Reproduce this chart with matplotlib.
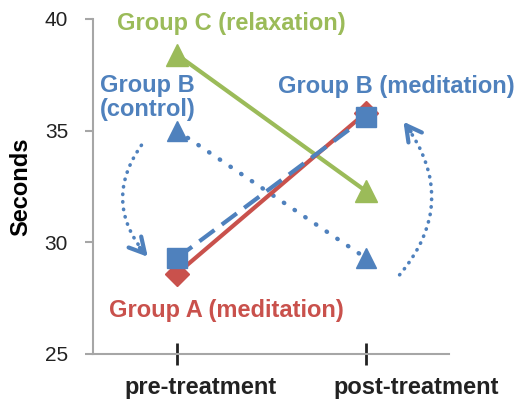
import numpy as np
import matplotlib
matplotlib.use("Agg")
import matplotlib.pyplot as plt
import matplotlib.transforms as mtransforms
from matplotlib.patches import FancyArrowPatch

plt.rcParams['font.family'] = ['Liberation Sans', 'DejaVu Sans']

categories = ["pre-treatment", "post-treatment"]
group_a_med = [28.6, 35.8]
group_b_med = [29.3, 35.6]
group_b_ctrl = [35.0, 29.3]
group_c_relax = [38.4, 32.3]
yticks = [25, 30, 35, 40]

RED = "#C9514C"
BLUE = "#4F81BD"
GREEN = "#9BBB59"

fig = plt.figure(figsize=(5.17, 4.03), dpi=100)
ax = fig.add_axes([0.180, 0.1216, 0.688, 0.8313])
x = np.arange(len(categories))

ax.plot(x, group_c_relax, color=GREEN, lw=3, marker='^', ms=16, zorder=3)
ax.plot(x, group_b_ctrl, color=BLUE, lw=3.2, linestyle=(0, (0.1, 2.8)),
        dash_capstyle='round', marker='^', ms=15, zorder=3)
ax.plot(x, group_a_med, color=RED, lw=3, marker='D', ms=12, zorder=4)
ax.plot(x, group_b_med, color=BLUE, lw=3, linestyle=(0, (4.5, 2.2)),
        marker='s', ms=14, zorder=5)

ax.set_xlim(-0.445, 1.44)
ax.set_ylim(25, 40)
ax.set_yticks(yticks)
ax.set_xticks(x)
ax.set_xticklabels(categories, fontsize=17, fontweight='bold', color='#222222')
ax.tick_params(axis='y', labelsize=15, colors='#A6A6A6', labelcolor='#222222',
               length=6, width=1.5, direction='out', pad=12)
ax.tick_params(axis='x', length=16, width=2, colors='#222222', direction='inout', pad=8)
for s in ['top', 'right']:
    ax.spines[s].set_visible(False)
for s in ['left', 'bottom']:
    ax.spines[s].set_color('#A6A6A6')
    ax.spines[s].set_linewidth(1.5)
ax.set_ylabel("Seconds", fontsize=17, fontweight='bold', labelpad=9)

# tick labels in the reference sit to the right of their ticks
for lbl, dx in zip(ax.get_xticklabels(), [24, 50]):
    lbl.set_transform(lbl.get_transform() +
                      mtransforms.ScaledTranslation(dx / 100, 0, fig.dpi_scale_trans))

ax.text(0.29, 39.8, "Group C (relaxation)", color=GREEN, fontsize=17,
        fontweight='bold', ha='center', va='center')
ax.text(-0.41, 36.5, "Group B\n(control)", color=BLUE, fontsize=17,
        fontweight='bold', ha='left', va='center', linespacing=1.05)
ax.text(1.79, 36.96, "Group B (meditation)", color=BLUE, fontsize=17,
        fontweight='bold', ha='right', va='center')
ax.text(0.264, 26.95, "Group A (meditation)", color=RED, fontsize=17,
        fontweight='bold', ha='center', va='center')

fig.canvas.draw()

def curved_arrow(p0, p1, rad):
    T = ax.transData
    a = np.array(T.transform(p0))
    b = np.array(T.transform(p1))
    d = b - a
    mid = (a + b) / 2
    ctrl = mid + rad * np.array([d[1], -d[0]])
    arc = FancyArrowPatch(a, b, connectionstyle=f"arc3,rad={rad}", arrowstyle='-',
                          transform=None, color=BLUE, lw=2.6,
                          linestyle=(0, (0.1, 2.0)), capstyle='round', zorder=2)
    fig.add_artist(arc)
    t = (b - ctrl)
    t = t / np.linalg.norm(t)
    start = b - t * 12
    head = FancyArrowPatch(start, b, arrowstyle='->,head_length=11,head_width=6',
                           transform=None, color=BLUE, lw=3, zorder=2,
                           shrinkA=0, shrinkB=0)
    fig.add_artist(head)

curved_arrow((-0.18, 34.45), (-0.155, 29.35), 0.4)
curved_arrow((1.17, 28.45), (1.20, 35.4), 0.4)

fig.savefig("out.png", dpi=100)
